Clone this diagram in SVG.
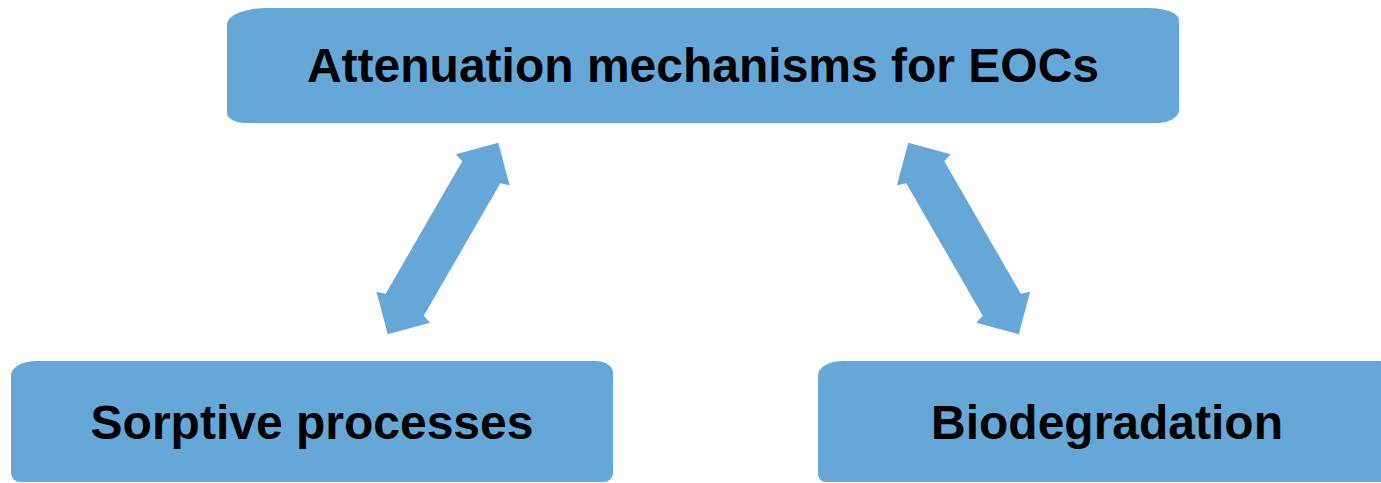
<svg xmlns="http://www.w3.org/2000/svg" width="1381" height="483" viewBox="0 0 1381 483">
  <defs>
    <style>
      .box { fill: #65a8d8; }
      .arrow { fill: #65a8d8; }
      .label { font-family: "Liberation Sans", Arial, sans-serif; font-weight: bold; font-size: 48px; fill: #000; text-anchor: middle; }
    </style>
    <!-- double-headed block arrow, laid along the x axis and centred on the origin -->
    <polygon id="dbl-arrow" points="110.5,0 79.5,-31 76.5,-22 -76.5,-22 -79.5,-31 -110.5,0 -79.5,31 -76.5,22 76.5,22 79.5,31"/>
  </defs>
  <rect width="1381" height="483" fill="#fff"/>

  <g id="node-attenuation">
    <path class="box" d="M267,8 H1149 A30,12 0 0 1 1179,20 V110 A22,13 0 0 1 1157,123 H245 A18,10 0 0 1 227,113 V24 A40,16 0 0 1 267,8 Z"/>
    <text class="label" x="703" y="82">Attenuation mechanisms for EOCs</text>
  </g>

  <g id="node-sorptive">
    <path class="box" d="M37,361 H596 A17,12 0 0 1 613,373 V473 A9,9 0 0 1 604,482 H20 A9,9 0 0 1 11,473 V375 A26,14 0 0 1 37,361 Z"/>
    <text class="label" x="312" y="439">Sorptive processes</text>
  </g>

  <g id="node-biodegradation">
    <path class="box" d="M844,361 H1378 A18,12 0 0 1 1396,373 V473 A9,9 0 0 1 1387,482 H826 A8,8 0 0 1 818,474 V375 A26,14 0 0 1 844,361 Z"/>
    <text class="label" x="1107" y="439">Biodegradation</text>
  </g>

  <g id="connectors">
    <use href="#dbl-arrow" class="arrow" transform="translate(443,238.5) rotate(-60)"/>
    <use href="#dbl-arrow" class="arrow" transform="translate(963.5,238.5) rotate(60)"/>
  </g>
</svg>
